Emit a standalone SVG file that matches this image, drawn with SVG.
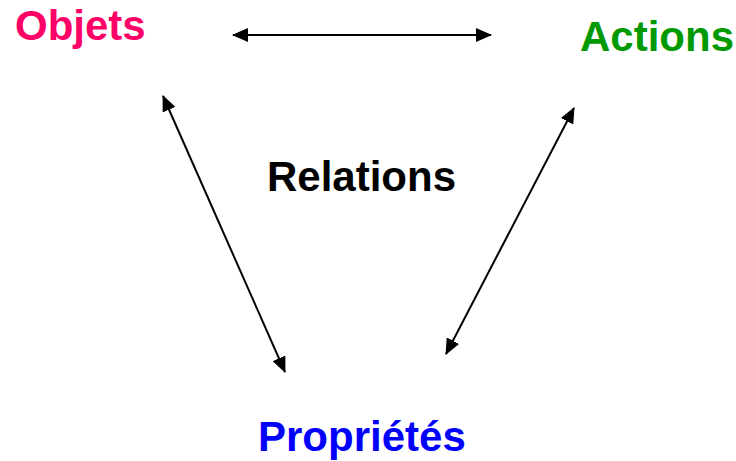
<svg xmlns="http://www.w3.org/2000/svg" width="736" height="461" viewBox="0 0 736 461">
<style>
.lbl{font-family:"Liberation Sans",Arial,sans-serif;font-weight:bold;font-size:42px}
.conn{stroke:#000;stroke-width:2;fill:none;marker-start:url(#ah);marker-end:url(#ah)}
</style>
<defs>
<marker id="ah" viewBox="0 0 16 14" refX="15" refY="7" markerWidth="16" markerHeight="14" markerUnits="userSpaceOnUse" orient="auto-start-reverse">
<path d="M0,0 L16,7 L0,14 Z" fill="#000"/>
</marker>
</defs>
<rect width="736" height="461" fill="#fff"/>
<g id="connectors">
<line class="conn" x1="233" y1="35" x2="491" y2="35"/>
<line class="conn" x1="163" y1="96" x2="285" y2="372"/>
<line class="conn" x1="574" y1="108" x2="446" y2="354"/>
</g>
<g id="objets"><text class="lbl" x="15" y="40" fill="#FF0066">Objets</text></g>
<g id="actions"><text class="lbl" x="580" y="51" fill="#009900">Actions</text></g>
<g id="relations"><text class="lbl" x="267" y="191" fill="#000">Relations</text></g>
<g id="proprietes"><text class="lbl" x="258" y="451" fill="#0000FF">Propriétés</text></g>
</svg>
